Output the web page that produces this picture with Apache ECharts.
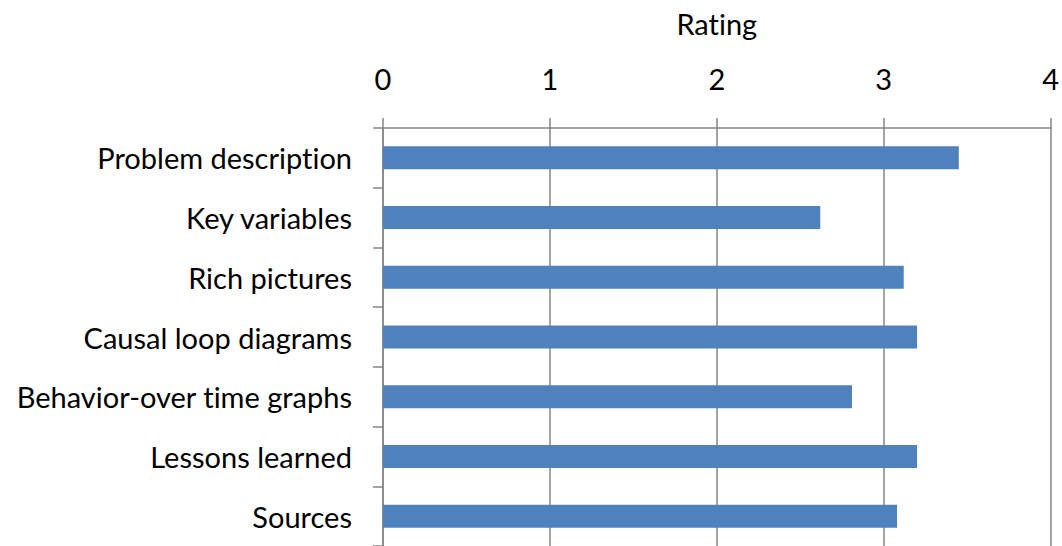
<!DOCTYPE html>
<html><head><meta charset="utf-8">
<script src="https://cdn.jsdelivr.net/npm/echarts@6/dist/echarts.min.js"></script>
<style>html,body{margin:0;padding:0;background:#fff}#c{width:1062px;height:546px}#c text{font-variant-ligatures:none;font-feature-settings:"liga" 0,"clig" 0}</style>
</head><body><div id="c"></div>
<script>
const categories = ["Problem description","Key variables","Rich pictures","Causal loop diagrams","Behavior-over time graphs","Lessons learned","Sources"];
const ratings = [3.45, 2.62, 3.12, 3.20, 2.81, 3.20, 3.08];
const axisName = "Rating";
const FONT = "Lato";
const FS = 29;
const chart = echarts.init(document.getElementById('c'), null, {renderer: 'svg'});
chart.setOption({
  animation: false,
  grid: {left: 383, top: 128, width: 668, height: 420, containLabel: false},
  xAxis: {
    type: 'value', position: 'top', min: 0, max: 4, interval: 1,
    name: axisName, nameLocation: 'middle', nameGap: 90,
    nameTextStyle: {fontFamily: FONT, fontSize: FS, color: '#000'},
    axisLine: {show: true, lineStyle: {color: '#868686', width: 1.5}},
    axisTick: {show: true, length: 10, lineStyle: {color: '#868686', width: 1.5}},
    axisLabel: {fontFamily: FONT, fontSize: FS, color: '#000', margin: 35},
    splitLine: {show: true, lineStyle: {color: '#868686', width: 1.5}}
  },
  yAxis: {
    type: 'category', data: categories, inverse: true,
    axisLine: {show: true, lineStyle: {color: '#868686', width: 1.5}},
    axisTick: {show: true, length: 10, lineStyle: {color: '#868686', width: 1.5}},
    axisLabel: {fontFamily: FONT, fontSize: FS, color: '#000', margin: 31}
  },
  series: [{
    type: 'bar', data: ratings, barWidth: 23,
    itemStyle: {color: '#4F81BD'}
  }]
});
</script></body></html>
